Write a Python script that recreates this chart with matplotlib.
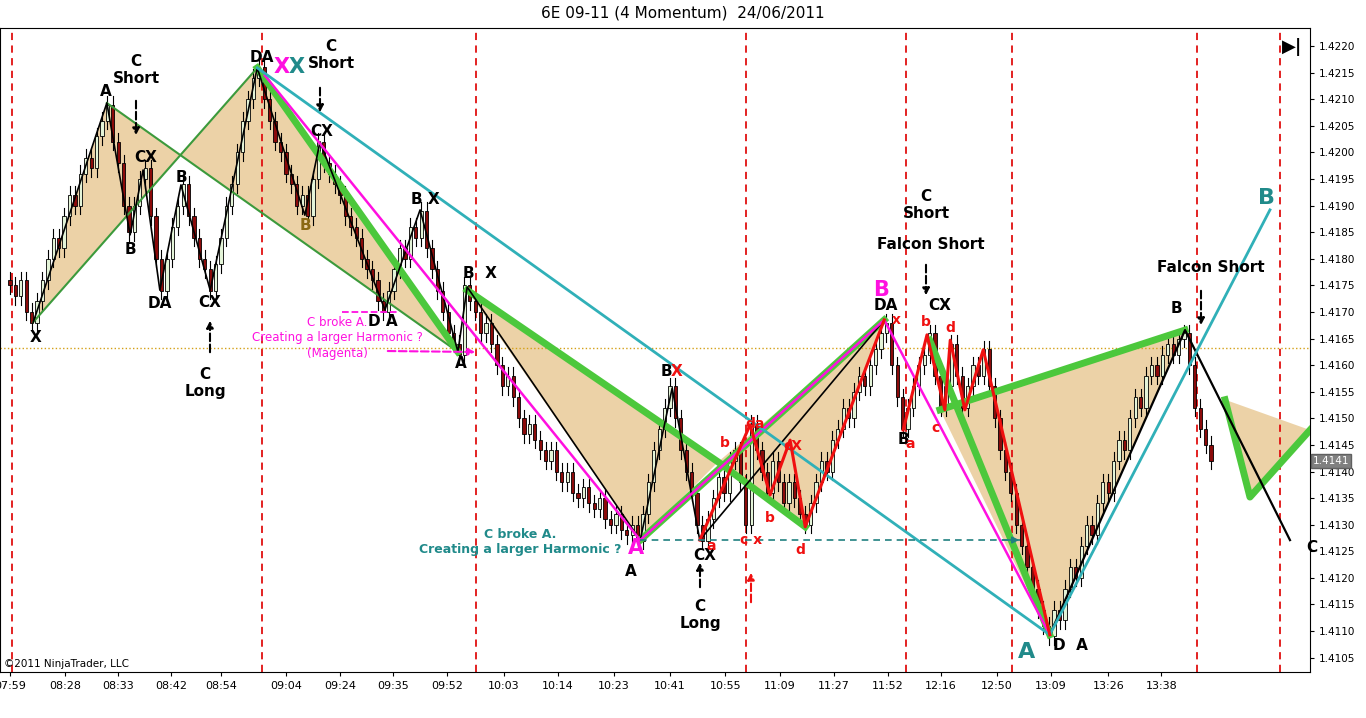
import matplotlib.pyplot as plt
import numpy as np

# closes in pips above 1.4100, one per bar
closes = [75, 73, 76, 70, 68,
          72, 76, 80, 84, 82, 88, 92, 90, 96, 99, 97, 103, 106, 109,
          102, 98, 90, 85,
          90, 95, 97,
          88, 80, 74,
          80, 86, 90, 94,
          88, 84, 80, 78, 74,
          79, 84, 90, 94, 100, 106, 110, 114, 116,
          110, 106, 102, 100, 96, 94, 90, 92, 88,
          95, 102,
          98, 96, 94, 92, 88, 86, 84, 80, 78, 76, 72, 70,
          74, 78, 82, 80, 86, 84, 89,
          82, 78, 74, 70, 66, 64, 62,
          75,
          72, 70, 66, 68, 64, 60, 56, 58, 54, 50, 47, 49, 46, 44, 42, 44,
          40, 38, 40, 36, 35, 37, 34, 33, 35, 31, 30, 32, 29, 28, 30, 27,
          32, 38, 44, 48, 52, 56,
          50, 44, 40, 36, 30, 27,
          31, 35, 39, 36, 42, 44, 38, 30, 49,
          44, 40, 36, 42, 38, 34, 38, 35, 32, 30,
          34, 38, 42, 40, 46, 48, 52, 50, 55, 58, 56, 60, 63, 66, 68,
          60, 54, 48,
          52, 56, 60, 62, 66,
          58, 52, 56, 64,
          58, 52,
          56, 60, 58, 63,
          56, 50, 44, 40, 36, 30, 26, 22, 18, 14, 11, 9,
          14, 12, 18, 22, 20, 26, 30, 28, 34, 38, 36, 42, 46, 44, 50, 54,
          52, 58, 60, 58, 62, 64, 62, 65, 66,
          60, 52, 48, 45, 42]

time_labels = ['07:59', '08:28', '08:33', '08:42', '08:54', '09:04', '09:24', '09:35', '09:52',
               '10:03', '10:14', '10:23', '10:41', '10:55', '11:09', '11:27', '11:52', '12:16',
               '12:50', '13:09', '13:26', '13:38']
time_pos = [0, 10.2, 20, 29.8, 39, 51, 61, 70.8, 80.8, 91.3, 101.3, 111.6, 122, 132.2,
            142.3, 152.3, 162.3, 172.1, 182.4, 192.4, 203, 212.8]
session_lines = [0.4, 46.6, 86.1, 136, 165.6, 185.2, 219.4, 234.8]
ref_level = 63.2

# harmonic patterns (bar index, pips)
tan_polys = [
    [(4.3, 68.1), (17.9, 109.3), (31.4, 99.5)],
    [(31.4, 99.5), (45.7, 115.9), (82.8, 62.5)],
    [(84.5, 74.1), (116.5, 27.1), (130.9, 41.8)],
    [(130.9, 41.8), (147, 29.6), (161.6, 68.5)],
    [(171.9, 51.6), (217.2, 66.6), (192.2, 9.3)],
    [(224.6, 53.5), (229.2, 35.2), (240.3, 47.8)],
]
green_thin = [[(4.3, 68.1), (45.7, 115.9)], [(17.9, 109.3), (82.8, 62.5)]]
green_thick = [[(45.7, 115.9), (82.8, 62.5)], [(84.5, 74.1), (130.9, 41.8), (147, 29.6)],
               [(116.5, 27.1), (161.6, 68.5)], [(171.9, 51.6), (217.2, 66.6)],
               [(170, 64.7), (192.2, 9.3)], [(224.6, 53.5), (229.2, 35.2), (240.3, 47.8)]]
black_zz = [(4.3, 68.1), (17.9, 109.3), (22.2, 84.5), (24.6, 96.7), (27.7, 74.1), (31.6, 93.9),
            (37, 74.1), (45.7, 115.9), (54.5, 88.2), (57.3, 102), (69.3, 70.4), (75.8, 89.2),
            (82.8, 62.5), (84.5, 74.7), (116.5, 27.1), (122.4, 55.7), (127.5, 27.1), (161.6, 68.5)]
black_right = [(192.2, 9.3), (217.2, 66.6), (236.6, 27.1)]
magenta = [(47.1, 114.5), (116.5, 27.1), (161.6, 68.5), (192.2, 9.3)]
teal = [[(45.7, 115.9), (192.2, 9.3)], [(192.2, 9.3), (232.9, 89.2)]]
red1 = [(127.5, 27.1), (136.8, 48.8), (140.5, 35.6), (144.2, 45.9), (147, 29.6), (161.6, 68.5)]
red2 = [(165.1, 47.8), (169.5, 65.7), (172.8, 51.6), (173.8, 64.7), (176.5, 51.6),
        (179.9, 62.9), (192.2, 9.3)]

W, H = 1366, 718
fig = plt.figure(figsize=(W / 100, H / 100), dpi=100)
ax = fig.add_axes([0, 1 - 672 / H, 1310 / W, 644 / H])
x0, x1 = -1.85, 240.3
y0, y1 = 2.3, 123.4
ax.set_xlim(x0, x1)
ax.set_ylim(y0, y1)


def px(x, y):
    return x0 + x / 1310 * (x1 - x0), y1 - (y - 28) / 644 * (y1 - y0)


for poly in tan_polys:
    ax.fill(*zip(*poly), color='#E6C48A', alpha=0.75, lw=0, zorder=1)

# candles
for i, c in enumerate(closes):
    o = closes[i - 1] if i > 0 else c + 1
    hi, lo = max(o, c) + 1.6, min(o, c) - 1.6
    ax.plot([i, i], [lo, hi], color='black', lw=0.8, zorder=2)
    col = '#E4F4D8' if c >= o else '#8B0A0A'
    ax.bar(i, max(abs(c - o), 0.3), bottom=min(o, c), width=0.6, color=col,
           edgecolor='black', lw=0.6, zorder=2)

for xv in session_lines:
    ax.axvline(xv, color='#E01010', ls=(0, (4, 3)), lw=1.3, zorder=1.5)
ax.axhline(ref_level, color='#D4A017', ls=':', lw=1, zorder=1.5)

for seg in green_thin:
    ax.plot(*zip(*seg), color='#3C9A3C', lw=1.5, zorder=3)
for seg in green_thick:
    ax.plot(*zip(*seg), color='#4CC83C', lw=5, zorder=3)
ax.plot(*zip(*black_zz), color='black', lw=1.2, zorder=4)
ax.plot(*zip(*black_right), color='black', lw=1.6, zorder=4)
ax.plot(*zip(*magenta), color='#FF10E0', lw=1.8, zorder=4)
for seg in teal:
    ax.plot(*zip(*seg), color='#30B0B8', lw=2, zorder=4)
ax.plot(*zip(*red1), color='#F01010', lw=2.2, zorder=4)
ax.plot(*zip(*red2), color='#F01010', lw=2.2, zorder=4)
ax.plot([116.5, 186.7], [27.1, 27.1], color='#208080', ls=(0, (4, 3)), lw=1.2, zorder=4)

labels = [
    (36, 338, 'X', 'black', 11), (106, 92, 'A', 'black', 11), (130, 250, 'B', 'black', 11),
    (146, 157, 'CX', 'black', 11), (160, 303, 'DA', 'black', 11), (181, 177, 'B', 'black', 11),
    (210, 302, 'CX', 'black', 11), (262, 58, 'DA', 'black', 11), (282, 67, 'X', '#FF10E0', 15),
    (297, 67, 'X', '#208A8A', 15), (305, 226, 'B', '#8B6914', 11), (322, 131, 'CX', 'black', 11),
    (383, 321, 'D A', 'black', 11), (425, 200, 'B X', 'black', 11), (461, 364, 'A', 'black', 11),
    (480, 274, 'B  X', 'black', 11), (636, 548, 'A', '#FF10E0', 15), (631, 572, 'A', 'black', 11),
    (666, 372, 'B', 'black', 11), (677, 372, 'X', '#F01010', 11), (705, 556, 'CX', 'black', 11),
    (711, 546, 'a', '#F01010', 10), (725, 443, 'b', '#F01010', 10), (755, 424, 'da', '#F01010', 10),
    (770, 518, 'b', '#F01010', 10), (793, 446, 'cX', '#F01010', 10), (751, 540, 'c x', '#F01010', 10),
    (800, 550, 'd', '#F01010', 10), (881, 290, 'B', '#FF10E0', 15), (886, 306, 'DA', 'black', 11),
    (896, 320, 'x', '#F01010', 10), (903, 440, 'B', 'black', 11), (910, 444, 'a', '#F01010', 10),
    (940, 306, 'CX', 'black', 11), (926, 322, 'b', '#F01010', 10), (950, 328, 'd', '#F01010', 10),
    (936, 428, 'c', '#F01010', 10), (1027, 652, 'A', '#208A8A', 16), (1070, 645, 'D  A', 'black', 11),
    (1176, 308, 'B', 'black', 11), (1266, 198, 'B', '#208A8A', 16), (1312, 548, 'C', 'black', 11),
]
for x, y, t, c, s in labels:
    ax.text(*px(x, y), t, color=c, fontsize=s, fontweight='bold', ha='center', va='center', zorder=6)

notes = [
    (136, 70, 'C\nShort'), (331, 55, 'C\nShort'), (205, 383, 'C\nLong'), (700, 615, 'C\nLong'),
    (926, 205, 'C\nShort'), (931, 244, 'Falcon Short'), (1211, 268, 'Falcon Short'),
]
for x, y, t in notes:
    ax.text(*px(x, y), t, fontsize=11, fontweight='bold', ha='center', va='center', zorder=6)
ax.text(*px(337, 338), 'C broke A.\nCreating a larger Harmonic ?\n(Magenta)', color='#FF10E0',
        fontsize=8.5, ha='center', va='center', zorder=6)
ax.text(*px(520, 542), 'C broke A.\nCreating a larger Harmonic ?', color='#208A8A',
        fontsize=9, fontweight='bold', ha='center', va='center', zorder=6)

arrows = [(136, 98, 136, 138, 'black'), (320, 85, 320, 115, 'black'), (210, 355, 210, 318, 'black'),
          (700, 590, 700, 560, 'black'), (926, 262, 926, 298, 'black'), (1201, 288, 1201, 328, 'black'),
          (751, 605, 751, 570, '#F01010'), (385, 351, 478, 352, '#FF10E0')]
for xa, ya, xb, yb, c in arrows:
    ax.annotate('', xy=px(xb, yb), xytext=px(xa, ya),
                arrowprops=dict(arrowstyle='-|>', color=c, lw=1.5, ls='--'), zorder=6)
ax.plot(*zip(px(342, 312), px(398, 312)), color='#FF10E0', ls='--', lw=1.3, zorder=6)
ax.annotate('', xy=px(1022, 540), xytext=px(1000, 540),
            arrowprops=dict(arrowstyle='-|>', color='#208080', lw=1.2), zorder=6)

ax.yaxis.tick_right()
yt = np.arange(5, 121, 5)
ax.set_yticks(yt)
ax.set_yticklabels([f'{1.41 + v / 10000:.4f}' for v in yt], fontsize=7.5)
ax.set_xticks(time_pos)
ax.set_xticklabels(time_labels, fontsize=8)
ax.tick_params(length=3)
ax.text(1.002, (42 - y0) / (y1 - y0), '1.4141', transform=ax.transAxes, fontsize=7.5,
        va='center', ha='left', bbox=dict(boxstyle='square,pad=0.2', fc='#808080', ec='#606060'),
        color='white')
ax.text(0.003, 0.005, '©2011 NinjaTrader, LLC', transform=ax.transAxes, fontsize=7.5, va='bottom')
ax.text(*px(1292, 47), '▶|', fontsize=13, fontweight='bold', ha='center', va='center')
fig.text(0.5, 1 - 13 / H, '6E 09-11 (4 Momentum)  24/06/2011', ha='center', va='center', fontsize=11)

fig.savefig('out.png', dpi=100)
